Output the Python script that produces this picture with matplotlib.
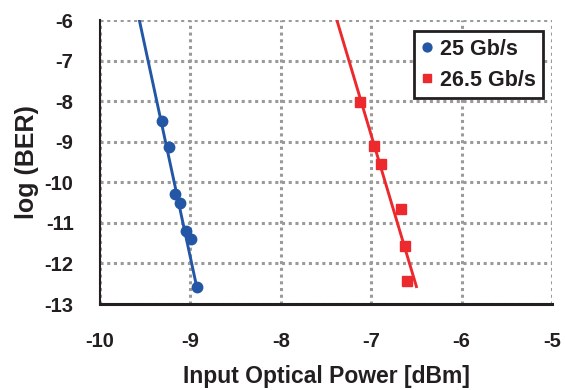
import matplotlib
matplotlib.use("Agg")
import matplotlib.pyplot as plt

# measured points
p25 = [-9.31, -9.24, -9.17, -9.115, -9.05, -8.99, -8.93]
ber25 = [-8.48, -9.13, -10.29, -10.51, -11.21, -11.39, -12.58]
p265 = [-7.12, -6.97, -6.89, -6.67, -6.63, -6.60]
ber265 = [-8.01, -9.10, -9.54, -10.65, -11.56, -12.43]

# fitted lines (end points)
fit25_x = [-9.565, -8.93]
fit25_y = [-6.0, -12.58]
fit265_x = [-7.38, -6.50]
fit265_y = [-6.0, -12.57]

xticks = [-10, -9, -8, -7, -6, -5]
yticks = [-13, -12, -11, -10, -9, -8, -7, -6]

blue = '#2456a6'
red = '#ec2a2e'
ink = '#231f20'

plt.rcParams['font.family'] = ['Liberation Sans', 'DejaVu Sans']
plt.rcParams['font.weight'] = 'bold'

fig = plt.figure(figsize=(5.65, 3.9), dpi=100)
ax = fig.add_axes([0.177, 0.2205, 0.8, 0.728])

ax.plot(fit25_x, fit25_y, color=blue, lw=2.1, zorder=3)
ax.plot(fit265_x, fit265_y, color=red, lw=2.1, zorder=3)
ax.plot(p25, ber25, 'o', color=blue, ms=7.5, label='25 Gb/s', zorder=4)
ax.plot(p265, ber265, 's', color=red, ms=7.5, label='26.5 Gb/s', zorder=4)

ax.set_xlim(-10, -5)
ax.set_ylim(-13, -6)
ax.set_xticks(xticks)
ax.set_yticks(yticks)
ax.set_xticklabels([str(t) for t in xticks])
ax.set_yticklabels([str(t) for t in yticks])
ax.tick_params(length=0, labelsize=14.5)
ax.tick_params(axis='x', pad=20)
ax.tick_params(axis='y', pad=19)
for lab in ax.get_xticklabels() + ax.get_yticklabels():
    lab.set_fontweight('bold')
    lab.set_color(ink)

ax.grid(True, color='#9a9a9a', linestyle=(0, (1, 1.2)), linewidth=2.2, zorder=0)
ax.set_axisbelow(True)
for s in ['top', 'right']:
    ax.spines[s].set_visible(False)
ax.spines['left'].set_color(ink)
ax.spines['bottom'].set_color(ink)
ax.spines['left'].set_linewidth(1.5)
ax.spines['bottom'].set_linewidth(2.2)

ax.set_xlabel('Input Optical Power [dBm]', fontsize=16.5, fontweight='bold', color=ink, labelpad=10)
ax.set_ylabel('log (BER)', fontsize=18, fontweight='bold', color=ink, labelpad=4)

leg = ax.legend(loc='upper right', bbox_to_anchor=(0.99, 0.975), fancybox=False,
                framealpha=1, edgecolor=ink, fontsize=15.5, handlelength=0.5,
                handletextpad=0.35, borderpad=0.35, labelspacing=0.45, markerscale=0.85,
                borderaxespad=0.2)
leg.get_frame().set_linewidth(2)
for t in leg.get_texts():
    t.set_fontweight('bold')
    t.set_color(ink)

fig.savefig('out.png', dpi=100)
